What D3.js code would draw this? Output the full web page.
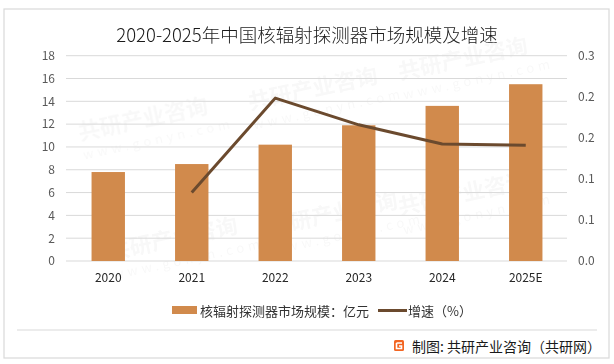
<!DOCTYPE html>
<html><head><meta charset="utf-8">
<script src="https://cdn.jsdelivr.net/npm/d3@7"></script>
<style>body{margin:0;background:#fff}svg{display:block}text{font-family:"Noto Sans CJK SC","Noto Sans",sans-serif}</style>
</head><body><svg id="c" width="614" height="364"></svg>
<script>
const categories = ["2020","2021","2022","2023","2024","2025E"];
const marketSize = [7.8, 8.5, 10.2, 11.9, 13.6, 15.5];
const growthRate = [null, 0.10, 0.238, 0.199, 0.171, 0.169];
const leftTicks = [0,2,4,6,8,10,12,14,16,18];
const rightTicks = [0,0.06,0.12,0.18,0.24,0.30];
const title = "2020-2025年中国核辐射探测器市场规模及增速";
const legendBar = "核辐射探测器市场规模：亿元";
const legendLine = "增速（%）";
const footer = "制图: 共研产业咨询（共研网）";

const svg = d3.select("#c");
svg.append("rect").attr("x",4).attr("y",9).attr("width",605).attr("height",349)
  .attr("fill","#fff").attr("stroke","#d9d9d9").attr("stroke-width",1.2);

// faint watermarks
const wm = svg.append("g").attr("opacity",0.03);
[[80,140],[250,110],[400,80],[110,260],[270,235],[400,215]].forEach(([x,y])=>{
  const g = wm.append("g").attr("transform",`translate(${x},${y}) rotate(-12)`);
  g.append("text").attr("font-size",22).attr("font-weight",700).attr("fill","#000").text("共研产业咨询");
  g.append("text").attr("y",20).attr("font-size",13).attr("letter-spacing",4).attr("fill","#000").text("www.gonyn.com");
});

const x = d3.scaleBand().domain(categories).range([66.5,567.5]).paddingInner(0.6).paddingOuter(0.3);
const yL = d3.scaleLinear().domain([0,18]).range([261,55.7]);
const yR = d3.scaleLinear().domain([0,0.3]).range([261,55.7]);

// grid
svg.append("g").selectAll("line").data(leftTicks).join("line")
  .attr("x1",66).attr("x2",567).attr("y1",d=>yL(d)).attr("y2",d=>yL(d))
  .attr("stroke","#d9d9d9").attr("stroke-width",1);

// left axis
const la = svg.append("g").attr("transform","translate(66,0)")
  .call(d3.axisLeft(yL).tickValues(leftTicks).tickSize(0).tickPadding(11));
la.select(".domain").remove();
la.selectAll("text").attr("font-family","'Liberation Sans',Arial,sans-serif").attr("font-size",12).attr("fill","#595959");

// right axis
const ra = svg.append("g").attr("transform","translate(567,0)")
  .call(d3.axisRight(yR).tickValues(rightTicks).tickSize(0).tickPadding(11).tickFormat(d3.format(".1f")));
ra.select(".domain").remove();
ra.selectAll("text").attr("font-family","'Liberation Sans',Arial,sans-serif").attr("font-size",12).attr("fill","#595959");

// bottom axis
const ba = svg.append("g").attr("transform","translate(0,261)")
  .call(d3.axisBottom(x).tickSize(0).tickPadding(12));
ba.select(".domain").remove();
ba.selectAll("text").attr("font-family","'Liberation Sans',Arial,sans-serif").attr("font-size",12).attr("fill","#262626");

// bars
svg.append("g").selectAll("rect").data(marketSize).join("rect")
  .attr("x",(d,i)=>x(categories[i])).attr("width",x.bandwidth())
  .attr("y",d=>yL(d)).attr("height",d=>yL(0)-yL(d)).attr("fill","#d18a4c");

// line
const pts = growthRate.map((v,i)=>[categories[i],v]).filter(p=>p[1]!=null);
svg.append("path").datum(pts)
  .attr("d",d3.line().x(p=>x(p[0])+x.bandwidth()/2).y(p=>yR(p[1])))
  .attr("fill","none").attr("stroke","#6b4a2e").attr("stroke-width",3).attr("stroke-linejoin","round");

// title
svg.append("text").attr("x",307).attr("y",42).attr("text-anchor","middle")
  .attr("font-size",18.5).attr("font-weight",300).attr("fill","#1a1a1a").text(title);

// legend
svg.append("rect").attr("x",172).attr("y",306).attr("width",25).attr("height",8).attr("fill","#d18a4c");
svg.append("text").attr("x",200).attr("y",315.5).attr("font-size",13).attr("fill","#333").text(legendBar);
svg.append("line").attr("x1",378).attr("x2",407).attr("y1",310.5).attr("y2",310.5).attr("stroke","#6b4a2e").attr("stroke-width",3);
svg.append("text").attr("x",408).attr("y",315.5).attr("font-size",13).attr("fill","#333").text(legendLine);

// footer
svg.append("line").attr("x1",17).attr("x2",597).attr("y1",330).attr("y2",330).attr("stroke","#d9d9d9").attr("stroke-width",1);
const logo = svg.append("g").attr("transform","translate(394,340)");
logo.append("rect").attr("width",10).attr("height",11).attr("rx",1.5).attr("fill","#f26522");
logo.append("path").attr("d","M2.5,3 H8 M2.5,3 V8.5 H7.5 V6 H5").attr("fill","none").attr("stroke","#fff").attr("stroke-width",1.6);
svg.append("text").attr("x",412).attr("y",351.5).attr("font-size",14).attr("fill","#1a1a1a").text(footer);
</script></body></html>
